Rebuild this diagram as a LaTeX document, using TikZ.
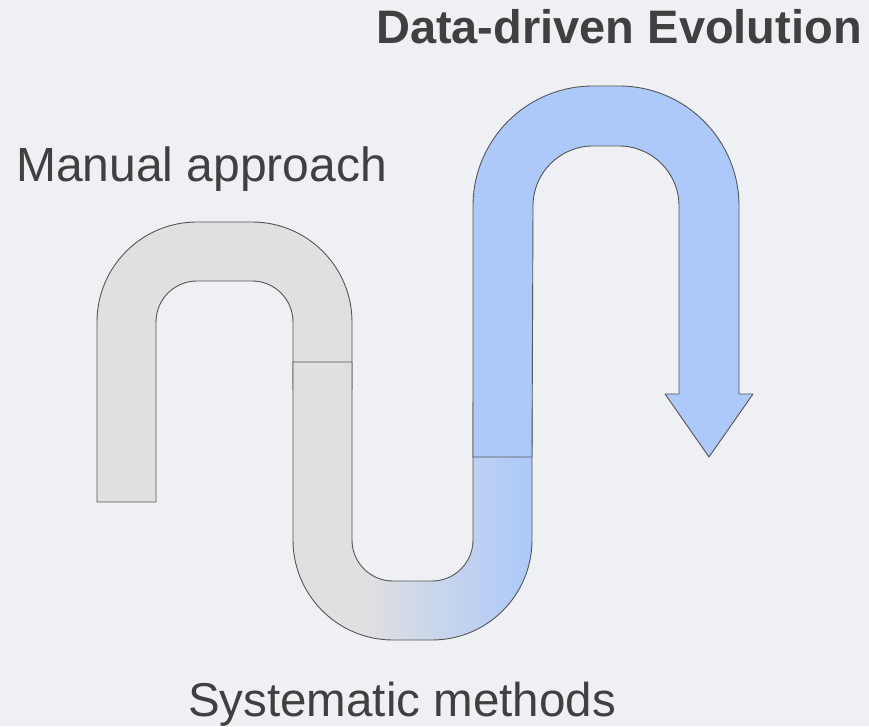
\documentclass[tikz,border=0pt]{standalone}
\usepackage{fontspec}
\setmainfont{Liberation Sans}
\definecolor{bgc}{HTML}{EEF0F4}
\definecolor{grayfill}{HTML}{E0E0E0}
\definecolor{bluefill}{HTML}{ADC9FA}
\definecolor{edgec}{HTML}{555555}
\definecolor{textc}{HTML}{404040}
\pgfdeclarehorizontalshading{graytoblue}{100bp}{color(0bp)=(grayfill); color(40bp)=(grayfill); color(74bp)=(bluefill); color(100bp)=(bluefill)}
\tikzset{
  pipe/.style={draw=edgec, line width=0.9pt, line join=round},
  label/.style={text=textc, inner sep=0pt}
}
\begin{document}
\begin{tikzpicture}[x=1pt,y=1pt]
\useasboundingbox (0,0) rectangle (869,726);
\fill[bgc] (0,0) rectangle (869,726);
% manual (gray inverted U)
\path[pipe, fill=grayfill] (97,224) -- (97,404) arc[start angle=180,end angle=90,radius=100] -- (252,504) arc[start angle=90,end angle=0,radius=100] -- (352,336) -- (293,336) -- (293,404) arc[start angle=0,end angle=90,radius=41] -- (197,445) arc[start angle=90,end angle=180,radius=41] -- (156,224) -- cycle;
% systematic (gradient U)
\path[pipe, shading=graytoblue] (293,364) -- (293,186) arc[start angle=180,end angle=270,radius=100] -- (432,86) arc[start angle=270,end angle=360,radius=100] -- (532,324) -- (473,324) -- (473,186) arc[start angle=0,end angle=-90,radius=41] -- (393,145) arc[start angle=270,end angle=180,radius=41] -- (352,364) -- cycle;
% data-driven (blue inverted U with arrow)
\path[pipe, fill=bluefill] (473,269) -- (473,520) arc[start angle=180,end angle=90,radius=120] -- (619,640) arc[start angle=90,end angle=0,radius=120] -- (739,332) -- (753,332) -- (709,269) -- (665,332) -- (679,332) -- (679,520) arc[start angle=0,end angle=90,radius=60] -- (593,580) arc[start angle=90,end angle=180,radius=60] -- (532,269) -- cycle;
\node[label, font=\fontsize{47}{56}\selectfont\bfseries, anchor=base east] (title) at (862,682) {Data-driven Evolution};
\node[label, font=\fontsize{48}{56}\selectfont, anchor=base west] (manual) at (16,544) {Manual approach};
\node[label, font=\fontsize{47.5}{56}\selectfont, anchor=base] (systematic) at (402,10) {Systematic methods};
\end{tikzpicture}
\end{document}
